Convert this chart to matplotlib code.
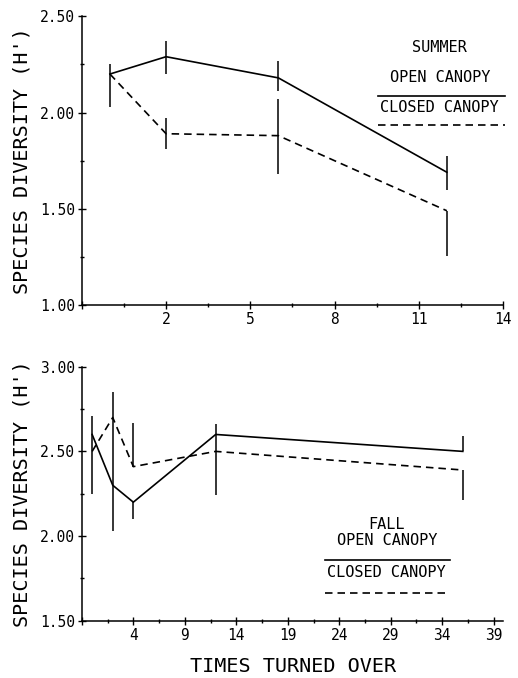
import numpy as np
import matplotlib
matplotlib.use("Agg")
import matplotlib.pyplot as plt
from matplotlib.lines import Line2D

# summer panel data
summer_x = [0, 2, 6, 12]
summer_open = [2.20, 2.29, 2.18, 1.69]
summer_closed = [2.20, 1.89, 1.88, 1.49]
summer_open_lo = [2.03, 2.20, 2.11, 1.60]
summer_open_hi = [2.25, 2.37, 2.27, 1.775]
summer_closed_lo = [np.nan, 1.81, 1.68, 1.255]
summer_closed_hi = [np.nan, 1.97, 2.07, 1.49]
summer_xticks = [-1, 2, 5, 8, 11, 14]
summer_yticks = [1.00, 1.50, 2.00, 2.50]

# fall panel data
fall_x = [0, 2, 4, 12, 36]
fall_open = [2.60, 2.30, 2.20, 2.60, 2.50]
fall_closed = [2.50, 2.70, 2.41, 2.50, 2.39]
fall_open_lo = [2.25, 2.03, 2.10, 2.24, 2.50]
fall_open_hi = [2.71, 2.85, 2.20, 2.66, 2.59]
fall_closed_lo = [np.nan, np.nan, 2.41, np.nan, 2.21]
fall_closed_hi = [np.nan, np.nan, 2.67, np.nan, 2.39]
fall_xticks = [-1, 4, 9, 14, 19, 24, 29, 34, 39]
fall_yticks = [1.50, 2.00, 2.50, 3.00]

plt.rcParams['font.family'] = 'DejaVu Sans Mono'

fig = plt.figure(figsize=(5.18, 6.78), dpi=100)
ax1 = fig.add_axes([0.158, 0.550, 0.813, 0.426])
ax2 = fig.add_axes([0.158, 0.0845, 0.813, 0.3746])

lw = 1.2
dash = (4.5, 3)


def style_axes(ax, xticks, yticks, xlim, ylim, xminor, yminor):
    for s in ['top', 'right']:
        ax.spines[s].set_visible(False)
    for s in ['left', 'bottom']:
        ax.spines[s].set_linewidth(1.1)
    ax.set_xlim(*xlim)
    ax.set_ylim(*ylim)
    ax.set_xticks(xticks)
    ax.set_xticklabels([''] + [str(t) for t in xticks[1:]])
    ax.set_xticks(xminor, minor=True)
    ax.set_yticks(yticks)
    ax.set_yticklabels(['%.2f' % t for t in yticks])
    ax.set_yticks(yminor, minor=True)
    ax.tick_params(axis='both', which='major', direction='inout', length=6,
                   width=1, labelsize=10.5, pad=2)
    ax.tick_params(axis='both', which='minor', direction='inout', length=3, width=1)
    ax.set_ylabel("SPECIES DIVERSITY (H')", fontsize=14.5, labelpad=6)


# --- summer ---
ax1.plot(summer_x, summer_open, color='black', lw=lw)
ax1.plot(summer_x, summer_closed, color='black', lw=lw, dashes=dash)
ax1.vlines(summer_x, summer_open_lo, summer_open_hi, color='black', lw=1.1)
ax1.vlines(summer_x, summer_closed_lo, summer_closed_hi, color='black', lw=1.1)
style_axes(ax1, summer_xticks, summer_yticks, (-1, 14), (1.0, 2.5),
           np.arange(0.5, 14, 3), [1.25, 1.75, 2.25])

ax1.text(0.85, 0.893, 'SUMMER', transform=ax1.transAxes, ha='center', va='center', fontsize=11)
ax1.text(0.85, 0.789, 'OPEN CANOPY', transform=ax1.transAxes, ha='center', va='center', fontsize=11)
ax1.text(0.85, 0.685, 'CLOSED CANOPY', transform=ax1.transAxes, ha='center', va='center', fontsize=11)
ax1.add_line(Line2D([0.703, 1.005], [0.723, 0.723], transform=ax1.transAxes,
                    color='black', lw=lw, clip_on=False))
ax1.add_line(Line2D([0.703, 1.005], [0.623, 0.623], transform=ax1.transAxes,
                    color='black', lw=lw, dashes=dash, clip_on=False))

# --- fall ---
ax2.plot(fall_x, fall_open, color='black', lw=lw)
ax2.plot(fall_x, fall_closed, color='black', lw=lw, dashes=dash)
ax2.vlines(fall_x, fall_open_lo, fall_open_hi, color='black', lw=1.1)
ax2.vlines(fall_x, fall_closed_lo, fall_closed_hi, color='black', lw=1.1)
style_axes(ax2, fall_xticks, fall_yticks, (-1, 39.9), (1.5, 3.0),
           np.arange(1.5, 39, 5), [1.75, 2.25, 2.75])

ax2.text(0.724, 0.377, 'FALL', transform=ax2.transAxes, ha='center', va='center', fontsize=11)
ax2.text(0.724, 0.314, 'OPEN CANOPY', transform=ax2.transAxes, ha='center', va='center', fontsize=11)
ax2.text(0.724, 0.188, 'CLOSED CANOPY', transform=ax2.transAxes, ha='center', va='center', fontsize=11)
ax2.add_line(Line2D([0.577, 0.874], [0.239, 0.239], transform=ax2.transAxes,
                    color='black', lw=lw))
ax2.add_line(Line2D([0.577, 0.874], [0.109, 0.109], transform=ax2.transAxes,
                    color='black', lw=lw, dashes=dash))

fig.text(0.566, 0.017, 'TIMES TURNED OVER', ha='center', va='center', fontsize=14.5)

fig.savefig('out.png', dpi=100)
